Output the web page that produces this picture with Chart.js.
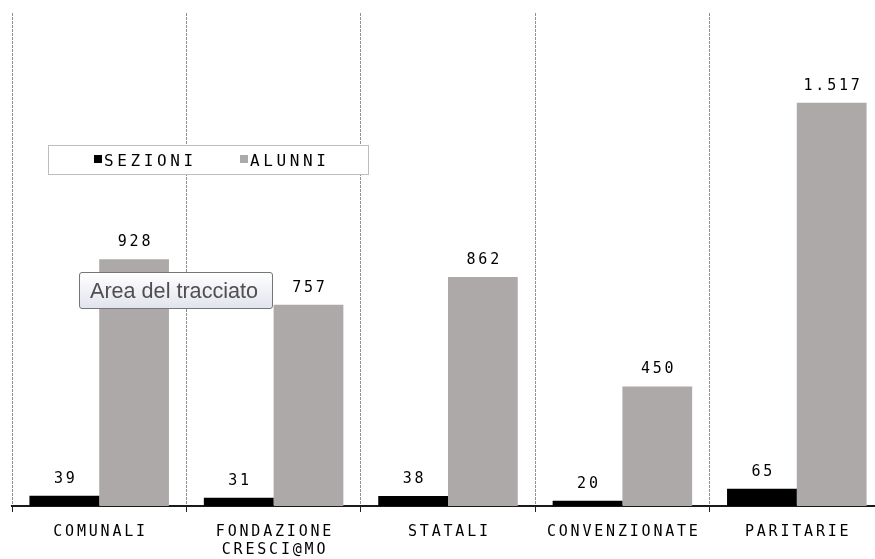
<!DOCTYPE html>
<html><head><meta charset="utf-8">
<script src="https://cdn.jsdelivr.net/npm/chart.js@4.4.0/dist/chart.umd.min.js"></script>
<style>
html,body{margin:0;padding:0;background:#fff;overflow:hidden;width:875px;height:559px;}
#wrap{position:relative;width:885px;height:559px;}
#c{display:block;}
#tip{position:absolute;left:79px;top:272px;width:182px;height:35px;border:1px solid #767676;border-radius:3px;background:linear-gradient(#ffffff,#e2e4ee);font-family:"Liberation Sans",Arial,sans-serif;font-size:21.6px;color:#4f4f4f;line-height:35px;padding-left:10px;white-space:nowrap;}
</style></head><body>
<div id="wrap"><canvas id="c" width="885" height="559" style="width:885px;height:559px"></canvas><div id="tip">Area del tracciato</div></div>
<script>
const categories = [['COMUNALI'], ['FONDAZIONE', 'CRESCI@MO'], ['STATALI'], ['CONVENZIONATE'], ['PARITARIE']];
const seriesNames = ['SEZIONI', 'ALUNNI'];
const sezioni = [39, 31, 38, 20, 65];
const alunni = [928, 757, 862, 450, 1517];
const seriesColors = ['#000000', '#ADA9A8'];

function fmt(n) {
  return String(n).replace(/\B(?=(\d{3})+(?!\d))/g, '.');
}

const monoFont = '"DejaVu Sans Mono", monospace';

const spacingPlugin = {
  id: 'spacing',
  beforeDraw(chart) { chart.ctx.letterSpacing = '2.8px'; },
  afterDraw(chart) { chart.ctx.letterSpacing = '0px'; }
};

const valuePlugin = {
  id: 'values',
  afterDatasetsDraw(chart) {
    const ctx = chart.ctx;
    ctx.save();
    ctx.letterSpacing = '2.8px';
    ctx.font = '15px ' + monoFont;
    ctx.fillStyle = '#000';
    ctx.textAlign = 'center';
    ctx.textBaseline = 'alphabetic';
    chart.data.datasets.forEach((ds, di) => {
      const meta = chart.getDatasetMeta(di);
      meta.data.forEach((bar, i) => {
        ctx.fillText(fmt(ds.data[i]), bar.x + 1.4, bar.y - 13);
      });
    });
    ctx.restore();
  }
};

const legendPlugin = {
  id: 'boxLegend',
  afterDraw(chart) {
    const ctx = chart.ctx;
    ctx.save();
    ctx.letterSpacing = '3.6px';
    ctx.fillStyle = '#fff';
    ctx.fillRect(48, 145, 321, 30);
    ctx.strokeStyle = '#bdbdbd';
    ctx.lineWidth = 1;
    ctx.strokeRect(48.5, 145.5, 320, 29);
    ctx.font = '16px ' + monoFont;
    ctx.textBaseline = 'alphabetic';
    ctx.textAlign = 'left';
    const xs = [94, 240];
    chart.data.datasets.forEach((ds, i) => {
      ctx.fillStyle = ds.backgroundColor;
      ctx.fillRect(xs[i], 155, 8, 8);
      ctx.fillStyle = '#000';
      ctx.fillText(ds.label, xs[i] + 10, 165.5);
    });
    ctx.restore();
  }
};

new Chart(document.getElementById('c'), {
  type: 'bar',
  data: {
    labels: categories,
    datasets: [
      { label: seriesNames[0], data: sezioni, backgroundColor: seriesColors[0] },
      { label: seriesNames[1], data: alunni, backgroundColor: seriesColors[1] }
    ]
  },
  options: {
    responsive: false,
    animation: false,
    events: [],
    layout: { padding: { left: 12, top: 13, right: 1, bottom: 0 } },
    datasets: { bar: { categoryPercentage: 0.8, barPercentage: 1.0, borderWidth: 0 } },
    plugins: { legend: { display: false }, tooltip: { enabled: false } },
    scales: {
      x: {
        offset: true,
        grid: { offset: true, color: '#8f8f8f', lineWidth: 1, drawTicks: true, tickLength: 6, tickColor: '#222', tickBorderDash: [], tickWidth: 1 },
        border: { display: true, color: '#1a1a1a', width: 2, dash: [3, 1] },
        ticks: { font: { family: monoFont, size: 15, lineHeight: 1.2 }, color: '#000', padding: 11, maxRotation: 0, autoSkip: false, labelOffset: 1.4 },
        afterFit(s) { s.height = 53; }
      },
      y: { display: false, min: 0, max: 1855 }
    }
  },
  plugins: [spacingPlugin, valuePlugin, legendPlugin]
});
</script>
</body></html>
